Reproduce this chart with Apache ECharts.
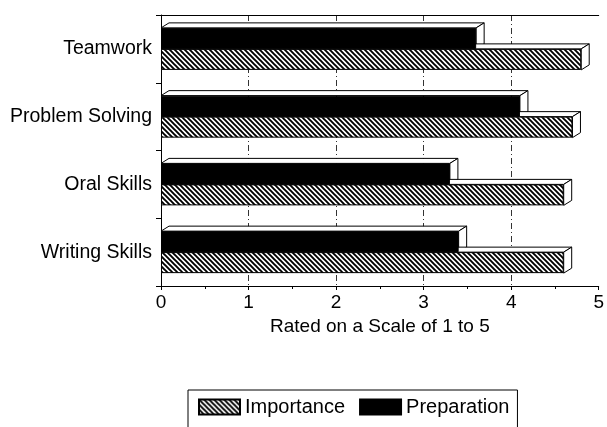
<!DOCTYPE html>
<html>
<head>
<meta charset="utf-8">
<script src="https://cdn.jsdelivr.net/npm/echarts@6/dist/echarts.min.js"></script>
<style>
  html, body { margin: 0; padding: 0; background: #fff; }
  #main { width: 607px; height: 427px; }
</style>
</head>
<body>
<div id="main"></div>
<script>
const categories = ["Teamwork", "Problem Solving", "Oral Skills", "Writing Skills"];
const importance = [4.8, 4.7, 4.6, 4.6];
const preparation = [3.6, 4.1, 3.3, 3.4];
const xTicks = [0, 1, 2, 3, 4, 5];

const BAR = 21;   // bar thickness
const DX = 8;     // depth of the 3D faces
const DY = 5;

// diagonal hatch for the Importance bars
function hatch() {
  const c = document.createElement("canvas");
  c.width = 5;
  c.height = 5;
  const ctx = c.getContext("2d");
  ctx.fillStyle = "#fff";
  ctx.fillRect(0, 0, 5, 5);
  ctx.strokeStyle = "#000";
  ctx.lineWidth = 1.9;
  ctx.beginPath();
  ctx.moveTo(-1, -1); ctx.lineTo(6, 6);
  ctx.moveTo(-1, 4); ctx.lineTo(1, 6);
  ctx.moveTo(4, -1); ctx.lineTo(6, 1);
  ctx.stroke();
  return c;
}

// top + side faces of each bar; [value, category index, 0 = preparation (upper) / 1 = importance (lower)]
const faces = [];
categories.forEach((c, i) => {
  faces.push([preparation[i], i, 0]);
  faces.push([importance[i], i, 1]);
});

function renderFaces(params, api) {
  const end = api.coord([api.value(0), api.value(1)]);
  const start = api.coord([0, api.value(1)]);
  const top = api.value(2) === 0 ? end[1] - BAR : end[1];
  const bot = top + BAR;
  const x0 = start[0], x1 = end[0];
  const style = { fill: "#fff", stroke: "#000", lineWidth: 1 };
  return {
    type: "group",
    children: [{
      type: "polygon",
      shape: { points: [[x0, top], [x0 + DX, top - DY], [x1 + DX, top - DY], [x1, top]] },
      style: style
    }, {
      type: "polygon",
      shape: { points: [[x1, top], [x1 + DX, top - DY], [x1 + DX, bot - DY], [x1, bot]] },
      style: style
    }]
  };
}

const font = "Liberation Sans";
const chart = echarts.init(document.getElementById("main"));
chart.setOption({
  animation: false,
  textStyle: { fontFamily: font },
  grid: { left: 161, right: 7, top: 15, height: 271 },
  legend: {
    top: 390,
    left: 188,
    data: [
      { name: "Importance", icon: "rect" },
      { name: "Preparation", icon: "rect" }
    ],
    itemWidth: 41,
    itemHeight: 15,
    itemGap: 14,
    padding: [7, 8, 20, 10],
    borderColor: "#000",
    borderWidth: 1,
    textStyle: { fontSize: 20, color: "#000", fontFamily: font }
  },
  xAxis: [{
    type: "value",
    min: 0,
    max: 5,
    interval: 1,
    name: "Rated on a Scale of 1 to 5",
    nameLocation: "middle",
    nameGap: 24,
    nameTextStyle: { fontSize: 19, color: "#000", verticalAlign: "top" },
    axisLine: { show: true, lineStyle: { color: "#000" } },
    axisTick: { show: true, length: 4, lineStyle: { color: "#000" } },
    minorTick: { show: true, splitNumber: 2, length: 3, lineStyle: { color: "#000" } },
    axisLabel: { fontSize: 19, color: "#000", margin: 7,
      formatter: v => xTicks.includes(v) ? String(v) : "" },
    splitLine: { show: true, showMinLine: false, showMaxLine: false,
      lineStyle: { color: "#333", type: [6, 3, 1, 3], width: 1 } }
  }, {
    type: "value",
    position: "top",
    min: 0,
    max: 5,
    axisLine: { show: true, lineStyle: { color: "#000" } },
    axisTick: { show: false },
    axisLabel: { show: false },
    splitLine: { show: false }
  }],
  yAxis: {
    type: "category",
    data: categories,
    inverse: true,
    axisLine: { show: true, lineStyle: { color: "#000" } },
    axisTick: { show: true, length: 5, lineStyle: { color: "#000" } },
    axisLabel: { fontSize: 19.5, color: "#000", margin: 9 }
  },
  series: [{
    name: "Preparation",
    type: "bar",
    data: preparation,
    barWidth: BAR,
    barGap: "0%",
    z: 3,
    itemStyle: { color: "#000", borderColor: "#000", borderWidth: 1 }
  }, {
    name: "Importance",
    type: "bar",
    data: importance,
    barWidth: BAR,
    barGap: "0%",
    z: 3,
    itemStyle: { color: { image: hatch(), repeat: "repeat" }, borderColor: "#000", borderWidth: 1 }
  }, {
    type: "custom",
    data: faces,
    encode: { x: 0, y: 1 },
    z: 2,
    silent: true,
    renderItem: renderFaces
  }]
});
</script>
</body>
</html>
